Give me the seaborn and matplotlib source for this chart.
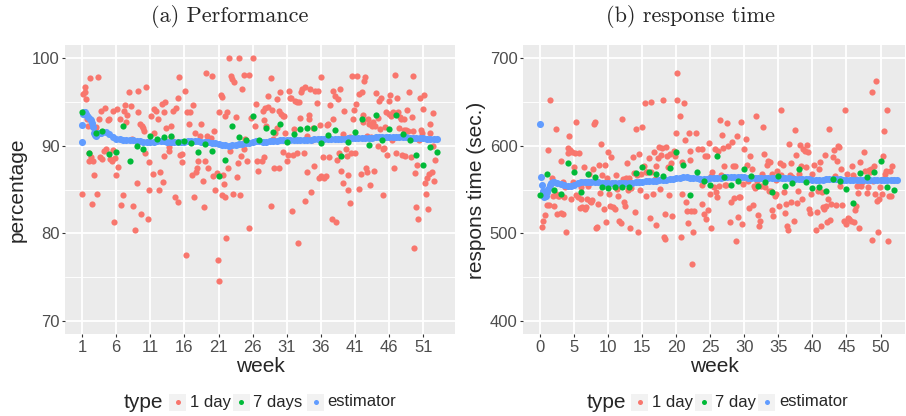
import numpy as np
import pandas as pd
import matplotlib
matplotlib.use("Agg")
import matplotlib.pyplot as plt
import seaborn as sns
from matplotlib.patches import Rectangle
from matplotlib.lines import Line2D

# ---------------- data: panel (a) Performance ----------------
a_day = [(1.05,84.5),(1.15,95.9),(1.4,96.1),(1.5,96.7),(1.6,95.3),(2.2,97.7),(3.3,97.9),(1.8,93.0),(1.9,92.2),(2.0,89.2),
 (2.3,88.7),(2.0,88.2),(2.6,88.2),(2.75,86.6),(2.45,83.4),(3.2,84.5),(3.0,92.1),(3.1,91.7),(3.5,93.0),(3.6,88.7),
 (3.9,88.5),(3.8,94.0),(4.3,94.3),(4.2,89.4),(4.45,89.6),(4.8,92.9),(5.0,93.0),(5.1,88.5),(5.4,88.2),(5.5,89.5),
 (5.6,94.0),(5.75,81.3),(5.9,88.6),(6.0,86.6),(6.25,87.6),(6.1,94.2),(6.5,93.0),(6.7,83.2),(7.0,84.4),(7.2,94.0),
 (7.35,94.6),(7.45,92.7),(7.6,93.5),(7.85,96.1),(8.2,94.5),(8.3,90.8),(8.5,83.1),(8.8,80.4),(9.0,85.7),(9.15,96.2),
 (9.25,93.8),(9.5,92.5),(9.75,92.3),(9.9,92.0),(10.1,91.7),(10.3,89.2),(10.4,96.7),(9.65,82.2),(10.6,81.6),(10.75,84.9),
 (10.85,88.1),(11.1,93.4),(11.35,86.8),(11.6,94.2),(11.6,91.5),(11.9,94.0),(12.1,93.0),(12.3,84.9),(12.4,87.0),(12.65,94.8),
 (12.8,85.8),(12.95,88.8),(13.05,93.8),(13.2,95.0),(13.3,92.0),(13.7,89.4),(13.8,89.9),(14.1,92.2),(14.0,91.0),(14.35,94.0),
 (14.65,84.2),(14.75,94.3),(15.0,83.6),(15.1,95.5),(15.2,97.9),(15.3,88.9),(15.6,89.0),(15.7,88.1),(16.1,96.3),(16.2,77.5),
 (16.4,93.9),(16.7,92.5),(16.8,93.9),(17.1,86.7),(17.3,94.6),(17.4,84.1),(17.55,91.5),(17.65,87.0),(17.9,87.4),(18.0,88.3),
 (18.3,91.1),(18.5,92.5),(18.75,86.0),(18.85,83.0),(19.0,88.2),(19.1,98.3),(19.25,91.1),(19.5,87.5),(19.6,90.8),(19.85,90.9),
 (20.1,98.0),(20.2,86.5),(20.3,91.7),(20.55,84.9),(20.8,86.9),(20.95,76.9),(21.05,74.5),(21.05,93.8),(21.3,95.8),(21.45,95.6),
 (21.55,84.4),(21.7,86.7),(21.8,85.6),(21.9,84.2),(22.0,93.4),(22.1,79.5),(22.3,93.9),(22.4,87.5),(22.6,100.0),(22.75,89.4),
 (22.9,98.0),(23.0,97.6),(23.1,84.5),(23.2,97.3),(23.5,93.3),(23.7,86.4),(23.85,88.0),(23.95,100.0),(24.2,84.4),(24.3,88.8),
 (24.5,96.5),(24.7,89.6),(24.8,98.1),(24.9,90.8),(25.2,88.2),(25.4,98.1),(25.5,80.6),(25.7,93.2),(26.1,100.0),(26.4,92.2),
 (26.5,94.8),(26.6,88.2),(26.8,87.1),
 (27.3,88.2),(27.5,94.0),(27.6,88.7),(27.7,92.9),(27.8,94.3),(28.0,92.2),(28.2,95.7),(28.3,94.4),(28.7,83.1),(28.7,97.7),
 (28.8,94.1),(29.0,90.8),(29.1,87.5),(29.3,91.4),(29.5,92.0),(29.6,95.3),(29.8,94.0),(29.9,87.5),(30.0,96.1),(30.1,93.6),
 (30.4,93.4),(30.5,89.3),(30.65,93.4),(30.8,91.4),(31.0,88.3),(31.15,88.9),(31.35,96.2),(31.5,95.5),(31.6,95.4),(31.7,82.6),
 (31.9,88.9),(32.0,91.9),(32.2,95.1),(32.5,89.2),(32.55,95.0),(32.7,78.9),(32.85,95.0),(32.95,93.2),(33.1,96.1),(33.3,96.5),
 (33.45,89.2),(33.6,96.7),(33.7,83.7),(33.9,87.0),(34.0,91.1),(34.2,93.0),(34.3,93.5),(34.4,96.5),(34.55,84.7),(34.75,90.6),
 (34.9,92.0),(35.05,87.7),(35.15,96.3),(35.4,94.9),(35.55,96.2),(35.7,86.3),(35.9,92.4),(36.0,97.9),(36.0,86.5),(36.1,90.6),
 (36.35,88.7),(36.45,86.3),(36.75,86.5),(36.85,92.4),(37.1,92.5),(37.25,88.7),(37.35,94.6),(37.6,81.6),(37.7,93.1),(37.8,96.3),
 (38.05,95.7),(38.2,81.3),(38.4,88.4),(38.55,95.3),(38.7,89.2),(38.8,96.5),(39.0,87.1),(39.2,85.7),(39.3,91.3),(39.45,94.0),
 (39.6,89.6),(39.8,88.8),(39.9,86.7),(40.0,85.0),(40.2,91.0),(40.3,83.5),(40.4,89.2),(40.5,98.0),(40.65,93.0),(40.85,94.1),
 (41.0,89.2),(41.15,94.8),(41.35,98.0),(41.55,85.1),(41.65,95.9),(41.85,86.8),(42.0,96.1),(42.1,92.7),(42.2,93.5),(42.35,97.4),
 (42.45,97.8),(42.6,87.5),(42.7,87.0),(42.8,91.1),(42.95,93.0),(43.1,92.5),(43.2,85.5),(43.35,91.0),(43.55,92.2),(43.7,92.7),
 (43.8,87.1),(43.9,92.2),(44.1,96.0),(44.3,93.2),(44.4,90.0),(44.55,95.1),(44.65,91.9),(44.8,95.5),(45.05,89.6),(45.15,84.4),
 (45.3,89.7),(45.4,92.1),(45.6,93.9),(45.7,88.9),(45.9,95.1),(46.0,93.6),(46.1,95.8),(46.2,93.4),(46.35,90.6),(46.5,93.9),
 (46.7,87.5),(46.85,98.1),(47.0,89.2),(47.1,95.4),(47.25,93.8),(47.45,92.0),(47.6,93.3),(47.7,93.0),(47.9,88.9),(48.1,93.0),
 (48.2,91.8),(48.3,88.8),(48.45,91.8),(48.65,94.1),(48.8,91.7),(48.95,96.1),(49.15,88.7),(49.3,93.3),(49.45,91.7),(49.5,98.0),
 (49.7,78.3),(49.8,86.9),(49.9,83.0),(50.1,87.8),(50.25,81.6),(50.4,90.6),(50.5,95.5),(50.65,91.8),(50.75,91.5),(50.9,94.2),
 (51.05,95.8),(51.2,85.7),(51.35,84.5),(51.5,86.3),(51.7,82.8),(51.85,86.8),(51.95,91.5),(52.05,92.5),(52.2,87.0),(52.35,93.7),
 (52.45,90.0),(52.55,86.0),(52.7,88.4)]

a_week_x = list(range(1, 54))
a_week_val = [93.9, 89.2, 91.4, 91.7, 89.0, 89.3, 92.2, 88.2, 90.0, 89.6, 91.1, 90.8, 91.0, 91.1, 90.4,
              90.5, 90.3, 89.3, 90.2, 89.4, 86.5, 88.4, 92.3, 91.0, 90.7, 93.4, 90.6, 92.0, 91.6, 92.5,
              90.4, 91.3, 91.9, 92.0, 92.0, 90.3, 91.2, 91.8, 88.8, 90.4, 91.6, 93.0, 90.1, 93.5, 90.7,
              91.9, 93.5, 91.3, 90.7, 88.9, 87.8, 89.9, 89.3]

a_est = [(1.0,90.4),(1.05,92.4),(1.2,93.6),(1.35,93.9),(1.5,93.9),(1.65,93.6),(1.8,93.4),(1.95,93.3),(2.1,93.1),
 (2.25,92.9),(2.4,92.6),(2.55,92.1),(2.7,91.5),(2.85,91.2),(3.0,91.1),(3.2,91.3),(3.4,91.4),(3.6,91.5),(3.8,91.5),
 (4.0,91.6),(4.5,91.6),(5.0,91.3),(5.5,91.0),(6.0,90.8),(6.5,90.8),(7.0,90.7),(7.5,90.7),(8.0,90.6),(8.5,90.6),
 (9.0,90.5),(9.5,90.5),(10.0,90.4),(10.5,90.4),(11.0,90.4),(11.5,90.4),(12.0,90.5),(12.5,90.5),(13.0,90.5),(13.5,90.4),
 (14.0,90.4),(14.5,90.4),(15.0,90.4),(15.5,90.4),(16.0,90.4),(16.5,90.5),(17.0,90.5),(17.5,90.5),(18.0,90.5),(18.5,90.4),
 (19.0,90.4),(19.5,90.4),(20.0,90.3),(20.5,90.3),(21.0,90.2),(21.5,90.1),(22.0,90.1),(22.5,90.0),(23.0,90.1),(23.5,90.1),
 (24.0,90.2),(24.5,90.2),(25.0,90.3),(25.5,90.3),(26.0,90.4),(26.5,90.5),(27.0,90.5),(27.5,90.4),(28.0,90.4),(28.5,90.5),
 (29.0,90.5),(29.5,90.5),(30.0,90.6),(30.5,90.6),(31.0,90.6),(31.5,90.6),(32.0,90.7),(32.5,90.7),(33.0,90.7),(33.5,90.7),
 (34.0,90.7),(34.5,90.7),(35.0,90.8),(35.5,90.8),(36.0,90.8),(36.5,90.8),(37.0,90.8),(37.5,90.8),(38.0,90.8),(38.5,90.8),
 (39.0,90.8),(39.5,90.8),(40.0,90.9),(40.5,90.9),(41.0,90.9),(41.5,90.9),(42.0,90.9),(42.5,90.9),(43.0,90.9),(43.5,90.9),
 (44.0,91.0),(44.5,91.0),(45.0,91.0),(45.5,91.0),(46.0,91.0),(46.5,91.0),(47.0,91.0),(47.5,91.0),(48.0,91.0),(48.5,91.0),
 (49.0,90.9),(49.5,90.9),(50.0,90.9),(50.5,90.9),(51.0,90.9),(51.5,90.8),(52.0,90.8),(52.5,90.8),(53.0,90.8)]

# ---------------- data: panel (b) response time ----------------
b_day = [(0.2,506.8),(0.45,514.4),(0.7,520.9),(0.95,532.3),(1.1,595.4),(1.3,532.3),(1.5,652.5),(1.65,562.7),(1.8,543.0),
 (2.0,531.6),(2.25,619.0),(2.3,544.9),(2.4,522.1),(2.65,543.0),(2.8,542.2),(3.0,522.8),(3.1,582.1),(3.3,558.9),(3.35,522.1),
 (3.5,541.1),(3.65,553.2),(3.85,501.9),(4.0,591.3),(4.1,597.0),(4.25,610.6),(4.35,595.1),(4.5,539.2),(4.6,592.4),(4.75,558.2),
 (4.95,575.3),(5.1,592.0),(5.25,543.8),(5.3,627.4),(5.6,541.1),(5.7,591.3),(5.8,528.9),(5.95,539.2),(6.05,552.5),(6.2,529.7),
 (6.3,558.2),(6.4,575.3),(6.55,528.0),(6.7,529.7),(6.9,539.6),(7.05,554.4),(7.2,567.7),(7.3,537.3),(7.45,535.4),(7.6,538.4),
 (7.8,573.4),(7.9,624.7),(8.05,627.4),(8.15,505.7),(8.35,506.8),(8.5,533.5),(8.65,578.0),(8.75,546.0),(8.9,601.9),(9.0,566.2),
 (9.15,557.4),(9.3,527.2),(9.55,578.0),(9.65,513.3),(9.85,562.7),(10.0,592.4),(10.1,544.9),(10.2,530.8),(10.45,586.7),(10.6,557.4),
 (10.7,529.7),(10.95,528.0),(11.1,566.2),(11.3,551.0),(11.45,542.2),(11.6,514.4),(11.8,511.4),(11.95,630.4),(12.1,562.0),(12.25,536.1),
 (12.4,531.6),(12.55,562.7),(12.75,580.2),(12.9,549.1),(13.05,562.7),(13.25,505.7),(13.4,551.7),(13.65,586.7),(13.8,568.8),(13.9,523.8),
 (14.05,619.0),(14.25,566.2),(14.4,501.1),(14.5,590.5),(14.6,549.8),(14.85,567.7),(15.0,620.9),(15.2,577.2),(15.35,648.7),(15.5,542.2),
 (15.6,569.6),(15.75,570.3),(15.95,585.9),(16.1,517.1),(16.2,650.2),(16.3,570.3),(16.5,544.9),(16.7,592.4),(16.8,562.0),(16.95,509.5),
 (17.05,576.5),(17.3,585.9),(17.45,598.1),(17.55,551.0),(17.7,589.4),(17.9,597.0),(18.05,652.5),(18.15,496.2),(18.3,493.5),(18.4,522.1),
 (18.5,598.1),(18.6,587.8),(18.8,575.3),(18.9,543.8),(19.1,590.5),(19.25,580.2),(19.4,520.1),(19.6,594.3),(19.75,588.6),(19.9,614.1),
 (20.1,652.5),(20.15,682.9),(20.5,633.5),(20.65,495.4),(20.8,581.0),(20.9,544.9),(21.1,648.7),(21.2,606.5),(21.35,535.4),(21.55,525.9),
 (21.7,511.8),(21.85,614.5),(21.95,593.9),(22.05,584.0),(22.2,525.9),(22.35,465.0),(22.45,501.1),(22.55,525.9),(22.95,614.5),(23.2,596.2),
 (23.7,596.2),(23.8,555.5),(23.7,533.5),(24.0,522.1),(24.2,587.8),(24.3,516.4),(24.5,587.8),(24.65,527.0),(24.8,602.7),(24.9,544.9),
 (25.05,565.0),(25.15,505.7),(25.3,569.6),(25.5,552.5),(25.65,596.2),(25.8,546.8),(25.9,541.1),(26.05,594.3),(26.2,554.4),(26.4,629.7),
 (26.5,566.2),(26.65,612.2),(26.85,597.0),(27.0,576.5),(27.15,555.1),(27.35,555.1),(27.5,625.9),(27.65,600.0),(27.85,513.3),(28.0,535.4),
 (28.2,604.6),(28.35,576.5),(28.5,539.9),(28.6,576.5),(28.8,491.6),(28.9,611.4),(29.05,518.3),(29.2,541.1),(29.4,541.1),(29.55,626.6),
 (29.7,510.6),(29.8,556.3),(30.0,596.2),(30.2,607.6),(30.35,578.3),(30.55,560.1),(30.7,528.5),(30.85,588.6),(31.05,573.4),(31.2,532.3),
 (31.4,554.4),(31.5,551.7),(31.75,634.2),(31.85,560.1),(32.0,521.3),(32.15,508.0),(32.35,514.4),(32.5,554.4),(32.65,567.7),(32.75,621.7),
 (32.9,590.5),(33.0,552.5),(33.15,562.0),(33.3,578.0),(33.5,582.9),(33.6,548.7),(33.7,581.0),(33.9,548.7),(34.0,527.0),(34.1,567.7),
 (34.2,520.1),(34.45,543.0),(34.6,544.9),(34.7,561.2),(34.8,571.5),(35.05,530.8),(35.2,580.2),(35.35,566.2),(35.45,641.1),(35.6,578.0),
 (35.8,546.8),(35.95,522.8),(36.1,533.5),(36.2,508.0),(36.4,504.2),(36.55,601.9),(36.65,566.2),(36.8,580.2),(36.9,536.1),(37.05,563.9),
 (37.25,514.4),(37.4,617.9),(37.55,589.7),(37.75,534.6),(37.9,548.7),(38.0,567.7),(38.15,600.7),(38.3,576.5),(38.5,539.2),(38.6,596.2),
 (38.85,594.3),(39.0,575.3),(39.2,600.7),(39.35,592.4),(39.5,527.8),(39.6,523.4),(39.75,544.9),(39.95,567.7),(40.25,578.0),(40.5,504.2),
 (40.7,524.7),(40.85,548.7),(41.0,573.4),(41.1,581.0),(41.25,508.0),(41.4,546.8),(41.55,529.7),(41.7,527.8),(41.85,589.4),(42.05,530.8),
 (42.2,513.3),(42.35,539.2),(42.45,619.0),(42.55,515.6),(42.7,533.5),(42.95,586.7),(43.15,595.4),(43.3,565.0),(43.45,532.3),(43.65,582.9),
 (43.8,599.2),(43.9,598.1),(44.1,554.4),(44.25,573.4),(44.4,532.3),(44.6,514.4),(44.75,641.1),(44.9,510.6),(45.1,567.7),(45.25,517.5),
 (45.4,516.4),(45.6,514.4),(45.75,576.5),(45.9,566.2),(46.1,513.3),(46.25,527.0),(46.4,531.6),(46.45,562.0),(46.6,553.6),(46.75,546.0),
 (46.85,505.7),(47.05,581.0),(47.2,554.4),(47.35,558.2),(47.55,592.4),(47.7,571.5),(47.8,561.2),(47.95,546.0),(48.1,552.5),(48.3,572.7),
 (48.45,569.6),(48.55,573.4),(48.7,492.8),(48.8,661.6),(48.9,560.1),(49.0,576.5),(49.2,544.9),(49.4,674.1),(49.5,537.3),(49.65,501.9),
 (49.8,539.6),(49.9,552.5),(50.15,544.9),(50.3,562.0),(50.4,588.6),(50.55,616.3),(50.7,567.7),(50.8,571.5),(51.0,641.1),(51.1,491.6),
 (51.3,543.0),(51.45,571.5),(51.6,542.2),(51.75,576.5),(51.85,561.2)]

b_week_x = list(range(0, 53))
b_week_val = [544.1, 567.7, 549.8, 544.9, 579.8, 570.3, 546.8, 567.7, 563.9, 552.5, 551.3, 552.5, 552.5,
              553.2, 568.4, 575.3, 570.3, 567.7, 565.8, 574.1, 593.2, 578.3, 543.8, 570.3, 559.3, 555.5,
              587.8, 563.9, 555.1, 560.1, 573.4, 565.8, 554.4, 558.9, 547.5, 565.8, 554.4, 557.4, 573.4,
              558.9, 551.3, 553.2, 547.9, 562.0, 559.3, 550.6, 534.6, 568.4, 564.6, 569.6, 582.9, 552.5, 549.4]

b_est = [(0.0,624.7),(0.05,563.9),(0.2,555.5),(0.4,548.0),(0.6,541.1),(0.8,543.0),(1.0,547.0),(1.2,550.6),(1.4,555.0),
 (1.6,557.5),(1.8,558.0),(2.0,558.0),(2.5,557.0),(3.0,556.3),(3.5,555.5),(4.0,554.5),(4.5,554.5),(5.0,555.5),(5.5,557.0),
 (6.0,558.2),(6.5,558.9),(7.0,559.0),(7.5,558.5),(8.0,558.2),(8.5,558.0),(9.0,557.8),(9.5,557.5),(10.0,557.4),(10.5,557.2),
 (11.0,557.0),(11.5,557.0),(12.0,557.0),(12.5,557.2),(13.0,557.4),(13.5,557.8),(14.0,558.2),(14.5,558.5),(15.0,558.9),(15.5,559.2),
 (16.0,559.5),(16.5,559.8),(17.0,560.1),(17.5,560.4),(18.0,560.8),(18.5,561.2),(19.0,561.6),(19.5,562.0),(20.0,562.7),(20.5,563.2),
 (21.0,563.9),(21.5,564.0),(22.0,563.5),(22.5,563.0),(23.0,562.7),(23.5,562.2),(24.0,561.9),(24.5,562.2),(25.0,562.7),(25.5,563.0),
 (26.0,563.3),(26.5,563.6),(27.0,563.9),(27.5,563.9),(28.0,563.9),(28.5,563.9),(29.0,563.9),(29.5,563.9),(30.0,563.9),(30.5,563.6),
 (31.0,563.3),(31.5,563.1),(32.0,563.1),(32.5,563.0),(33.0,562.9),(33.5,562.8),(34.0,562.7),(34.5,562.7),(35.0,562.7),(35.5,562.7),
 (36.0,562.7),(36.5,562.6),(37.0,562.5),(37.5,562.3),(38.0,562.1),(38.5,562.0),(39.0,561.8),(39.5,561.6),(40.0,561.4),(40.5,561.3),
 (41.0,561.2),(41.5,561.4),(42.0,561.6),(42.5,561.8),(43.0,562.0),(43.5,561.8),(44.0,561.6),(44.5,561.4),(45.0,561.2),(45.5,561.2),
 (46.0,561.2),(46.5,561.2),(47.0,561.2),(47.5,561.2),(48.0,561.2),(48.5,561.2),(49.0,561.2),(49.5,561.2),(50.0,561.2),(50.5,561.2),
 (51.0,561.2),(51.5,561.2),(52.0,561.2),(52.4,561.2)]

a_labels = ["1 day", "7 days", "estimator"]
b_labels = ["1 day", "7 day", "estimator"]
a_xticks = [1, 6, 11, 16, 21, 26, 31, 36, 41, 46, 51]
b_xticks = [0, 5, 10, 15, 20, 25, 30, 35, 40, 45, 50]
a_yticks = [70, 80, 90, 100]
b_yticks = [400, 500, 600, 700]

COLORS = ["#F8766D", "#00BA38", "#619CFF"]

# ---------------- styling ----------------
sns.set_theme(style="white")
plt.rcParams["font.family"] = ["Liberation Sans", "DejaVu Sans"]

W, H = 906, 416
fig = plt.figure(figsize=(W / 100, H / 100), dpi=100)


def fx(px):
    return px / W


def fy(py):
    return 1 - py / H


def build_df(day, wk_x, wk_v, est, labels):
    d1 = pd.DataFrame(day, columns=["week", "value"]).assign(type=labels[0])
    d3 = pd.DataFrame(est, columns=["week", "value"]).assign(type=labels[2])
    d2 = pd.DataFrame({"week": wk_x, "value": wk_v}).assign(type=labels[1])
    return d1, d3, d2


def style_axes(ax, xlim, ylim, xticks, yticks, yminor):
    ax.set_facecolor("#EBEBEB")
    for s in ax.spines.values():
        s.set_visible(False)
    ax.set_xlim(*xlim)
    ax.set_ylim(*ylim)
    ax.set_xticks(xticks)
    ax.set_yticks(yticks)
    ax.set_yticks(yminor, minor=True)
    ax.grid(True, which="major", color="white", linewidth=1.3)
    ax.grid(True, which="minor", axis="y", color="white", linewidth=0.65)
    ax.set_axisbelow(True)
    ax.tick_params(axis="both", which="major", length=2.5, width=0.8, color="#333333",
                   labelsize=12, labelcolor="#4D4D4D", pad=1.5, left=True, bottom=True)
    ax.tick_params(axis="both", which="minor", length=0)
    ax.set_xlabel("")
    ax.set_ylabel("")


def draw_panel(ax, day, wk_x, wk_v, est, labels):
    d1, d3, d2 = build_df(day, wk_x, wk_v, est, labels)
    sns.scatterplot(data=d1, x="week", y="value", color=COLORS[0], s=20,
                    linewidth=0, legend=False, ax=ax)
    sns.scatterplot(data=d3, x="week", y="value", color=COLORS[2], s=26,
                    linewidth=0, legend=False, ax=ax)
    sns.scatterplot(data=d2, x="week", y="value", color=COLORS[1], s=20,
                    linewidth=0, legend=False, ax=ax)


ax_a = fig.add_axes([fx(65), fy(334), fx(455) - fx(65), fy(45) - fy(334)])
draw_panel(ax_a, a_day, a_week_x, a_week_val, a_est, a_labels)
style_axes(ax_a, (-1.49, 55.64), (68.5, 101.5), a_xticks, a_yticks, [75, 85, 95])

ax_b = fig.add_axes([fx(523), fy(334), fx(905) - fx(523), fy(45) - fy(334)])
draw_panel(ax_b, b_day, b_week_x, b_week_val, b_est, b_labels)
style_axes(ax_b, (-2.54, 53.6), (385, 715), b_xticks, b_yticks, [450, 550, 650])

# axis titles
fig.text(fx(260), fy(366), "week", ha="center", va="center", fontsize=15)
fig.text(fx(714), fy(366), "week", ha="center", va="center", fontsize=15)
fig.text(fx(17), fy(190), "percentage", ha="center", va="center", rotation=90, fontsize=15)
fig.text(fx(476), fy(190), "respons time (sec.)", ha="center", va="center", rotation=90, fontsize=15)

# sub-figure captions
fig.text(fx(230), fy(16), "(a) Performance", ha="center", va="center", fontsize=16, family="cmr10")
fig.text(fx(690), fy(16), "(b) response time", ha="center", va="center", fontsize=16, family="cmr10")


# legends (ggplot-like, horizontal, title on the left)
def draw_legend(title_x, keys_x, label_x, labels, yc=402):
    fig.text(fx(title_x), fy(yc), "type", ha="left", va="center", fontsize=15)
    for kx, lx, lab, col in zip(keys_x, label_x, labels, COLORS):
        fig.add_artist(Rectangle((fx(kx), fy(yc + 8.5)), 17 / W, 17 / H,
                                 transform=fig.transFigure, facecolor="#F2F2F2",
                                 edgecolor="none"))
        fig.add_artist(Line2D([fx(kx + 8.5)], [fy(yc)], transform=fig.transFigure,
                              marker="o", markersize=3.6, color=col, linestyle="none",
                              markeredgewidth=0))
        fig.text(fx(lx), fy(yc), lab, ha="left", va="center", fontsize=12)


draw_legend(124, [169, 233, 307], [190, 253, 327], a_labels)
draw_legend(587, [631, 695, 758], [652, 715, 779], b_labels)

fig.savefig("out.png", dpi=100)
